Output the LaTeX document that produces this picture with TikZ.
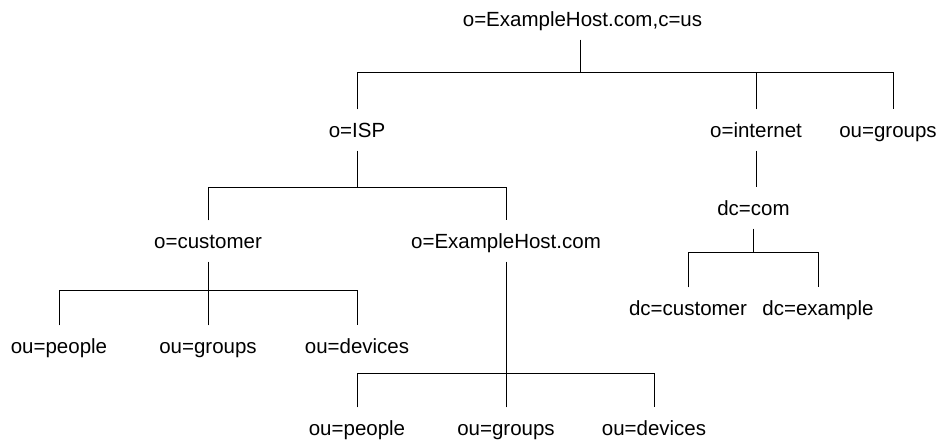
\documentclass[tikz,border=0pt]{standalone}
\usepackage{fontspec}
\setmainfont{Liberation Sans}
\begin{document}
\begin{tikzpicture}[x=1pt,y=-1pt,
  entry/.style={inner xsep=0pt, inner ysep=13pt, text height=15pt, text depth=0pt, font=\fontsize{20.5}{24}\selectfont},
  link/.style={line width=0.9pt, black}]
\useasboundingbox (0,0) rectangle (947,439);
% nodes
\node[entry] (root) at (582.5,19) {o=ExampleHost.com,c=us};
\node[entry] (isp) at (357,130) {o=ISP};
\node[entry] (inet) at (756,130) {o=internet};
\node[entry] (grp) at (888,130) {ou=groups};
\node[entry] (cust) at (208,241) {o=customer};
\node[entry] (host) at (506,241) {o=ExampleHost.com};
\node[entry] (dccom) at (753.5,208) {dc=com};
\node[entry] (dccust) at (688,308) {dc=customer};
\node[entry] (dcex) at (818,308) {dc=example};
\node[entry] (cpeo) at (59,346) {ou=people};
\node[entry] (cgrp) at (208,346) {ou=groups};
\node[entry] (cdev) at (357,346) {ou=devices};
\node[entry] (hpeo) at (357,428) {ou=people};
\node[entry] (hgrp) at (506,428) {ou=groups};
\node[entry] (hdev) at (654,428) {ou=devices};
% bar levels
\coordinate (b1) at (0,72);
\coordinate (b2) at (0,187);
\coordinate (b3) at (0,187);
\coordinate (b4) at (0,252);
\coordinate (b5) at (0,290);
\coordinate (b6) at (0,373);
\coordinate (rootx) at (580,0);
\coordinate (grpx) at (893,0);
% connectors
\draw[link] (rootx |- root.south) -- (rootx |- b1);
\draw[link] (isp.north) -- (isp.north |- b1) -| (grpx |- grp.north);
\draw[link] (inet.north) -- (inet.north |- b1);
\draw[link] (isp.south) -- (isp.south |- b2);
\draw[link] (cust.north) -- (cust.north |- b2) -| (host.north);
\draw[link] (inet.south) -- (dccom.north -| inet.south);
\draw[link] (dccom.south) -- (dccom.south |- b4);
\draw[link] (dccust.north) -- (dccust.north |- b4) -| (dcex.north);
\draw[link] (cust.south) -- (cust.south |- b5);
\draw[link] (cpeo.north) -- (cpeo.north |- b5) -| (cdev.north);
\draw[link] (cgrp.north) -- (cgrp.north |- b5);
\draw[link] (host.south) -- (host.south |- b6);
\draw[link] (hpeo.north) -- (hpeo.north |- b6) -| (hdev.north);
\draw[link] (hgrp.north) -- (hgrp.north |- b6);
\end{tikzpicture}
\end{document}
